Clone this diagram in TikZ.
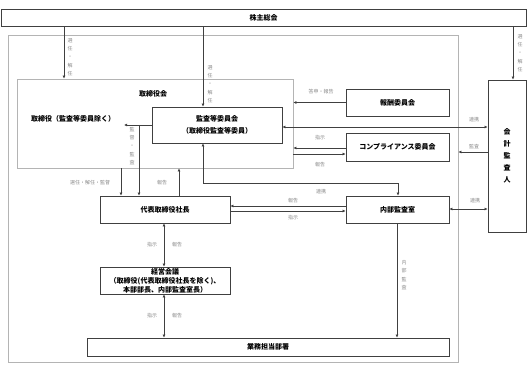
\documentclass[tikz,border=0pt]{standalone}
\usepackage{fontspec}
\setmainfont{Noto Sans CJK JP}
\usetikzlibrary{arrows.meta}
\definecolor{linec}{HTML}{404040}
\definecolor{framec}{HTML}{B4B4B4}
\definecolor{labc}{HTML}{8A8A8A}
\begin{document}
\begin{tikzpicture}[x=1pt,y=-1pt,
  box/.style={draw=linec,line width=0.8pt,inner sep=0pt,font=\fontsize{7}{8}\selectfont\bfseries,align=center},
  lbox/.style={draw=framec,line width=0.8pt,inner sep=0pt},
  btxt/.style={inner sep=0pt,font=\fontsize{7}{8}\selectfont\bfseries,align=center},
  lab/.style={inner sep=0pt,text=labc,font=\fontsize{5}{6}\selectfont},
  vlab/.style={inner sep=0pt,text=labc,font=\fontsize{5}{8.3}\selectfont,align=center},
  arr/.style={draw=linec,line width=0.8pt,-{Latex[length=3pt,width=3pt]}},
  arrb/.style={draw=linec,line width=0.8pt,{Latex[length=3pt,width=3pt]}-{Latex[length=3pt,width=3pt]}},
  ln/.style={draw=linec,line width=0.8pt}]
\useasboundingbox (0,0) rectangle (527,366);
% frames
\node[lbox,minimum width=450pt,minimum height=327pt] (frame) at (233,198.5) {};
\node[lbox,minimum width=276pt,minimum height=89pt] (torikai) at (155,123.5) {};
\node[btxt] (torikaiL) at (153,94) {取締役会};
\node[btxt] (torilab) at (73,119) {取締役（監査等委員除く）};
% boxes
\node[box,minimum width=525pt,minimum height=17pt] (soukai) at (263.5,17.5) {株主総会};
\node[box,minimum width=130pt,minimum height=36pt,font=\fontsize{7}{12}\selectfont\bfseries] (kansa) at (217,125) {監査等委員会\\（取締役監査等委員）};
\node[box,minimum width=103pt,minimum height=27pt] (housyu) at (397.5,102.5) {報酬委員会};
\node[box,minimum width=103pt,minimum height=28pt] (comp) at (397.5,147) {コンプライアンス委員会};
\node[box,minimum width=38pt,minimum height=152pt,font=\fontsize{7}{12}\selectfont\bfseries] (kaikei) at (507,156) {会\\計\\監\\査\\人};
\node[box,minimum width=130pt,minimum height=27pt] (daihyo) at (165,209.5) {代表取締役社長};
\node[box,minimum width=103pt,minimum height=27pt] (naibu) at (397.5,209.5) {内部監査室};
\node[box,minimum width=130pt,minimum height=27pt,font=\fontsize{7}{9}\selectfont\bfseries] (keiei) at (165,280.5) {経営会議\\（取締役(代表取締役社長を除く)、\\本部部長、内部監査室長）};
\node[box,minimum width=362pt,minimum height=18pt] (gyomu) at (268,347) {業務担当部署};
% coordinates
\coordinate (kl) at (124,125);
\coordinate (kj) at (139,125);
\coordinate (c1) at (203,183);
\coordinate (c2) at (398,183);
% connectors from shareholders
\draw[arr] (soukai.south -| 64,0) -- (torikai.north -| 64,0);
\draw[arr] (soukai.south -| 203,0) -- (kansa.north -| 203,0);
\draw[arr] (soukai.south -| 513,0) -- (kaikei.north -| 513,0);
% committees
\draw[arr] (housyu.west) -- (housyu.west -| torikai.east);
\draw[arrb] (kansa.east |- 0,127) -- (kaikei.west |- 0,127);
\draw[arr] (comp.west |- 0,148) -- (torikai.east |- 0,148);
\draw[arr] (torikai.east |- 0,154) -- (comp.west |- 0,154);
\draw[arr] (kaikei.west |- 0,152) -- (frame.east |- 0,152);
% audit committee to directors
\draw[arr] (kansa.west) -- (kl);
\draw[arr] (kj) -- (daihyo.north -| kj);
\draw[arr] (torikai.south -| 121,0) -- (daihyo.north -| 121,0);
\draw[arr] (daihyo.north -| 179,0) -- (torikai.south -| 179,0);
\draw[arrb] (kansa.south -| c1) -- (c1) -- (c2) -- (naibu.north -| c2);
% president and internal audit
\draw[arr] (naibu.west |- 0,206) -- (daihyo.east |- 0,206);
\draw[arr] (daihyo.east |- 0,211) -- (naibu.west |- 0,211);
\draw[arrb] (naibu.east |- 0,209) -- (kaikei.west |- 0,209);
\draw[arrb] (daihyo.south -| 164,0) -- (keiei.north -| 164,0);
\draw[arrb] (keiei.south -| 164,0) -- (gyomu.north -| 164,0);
\draw[arr] (naibu.south -| 397,0) -- (gyomu.north -| 397,0);
% labels
\node[vlab] (l1) at (70,57) {選\\任\\・\\解\\任};
\node[vlab] (l2) at (210,84) {選\\任\\・\\解\\任};
\node[vlab] (l3) at (520,53) {選\\任\\・\\解\\任};
\node[vlab] (l4) at (132,146) {監\\督\\・\\監\\査};
\node[vlab] (l5) at (404,275) {内\\部\\監\\査};
\node[lab] (l6) at (90,183) {選任・解任・監督};
\node[lab] (l7) at (162,183) {報告};
\node[lab] (l8) at (321,92) {答申・報告};
\node[lab] (l9) at (474,120) {連携};
\node[lab] (l10) at (320,138) {指示};
\node[lab] (l11) at (474,147) {監査};
\node[lab] (l12) at (320,165) {報告};
\node[lab] (l13) at (321,192) {連携};
\node[lab] (l14) at (293,201) {報告};
\node[lab] (l15) at (293,218) {指示};
\node[lab] (l16) at (475,201) {連携};
\node[lab] (l17) at (152,245) {指示};
\node[lab] (l18) at (177,245) {報告};
\node[lab] (l19) at (152,316) {指示};
\node[lab] (l20) at (177,316) {報告};
\end{tikzpicture}
\end{document}
